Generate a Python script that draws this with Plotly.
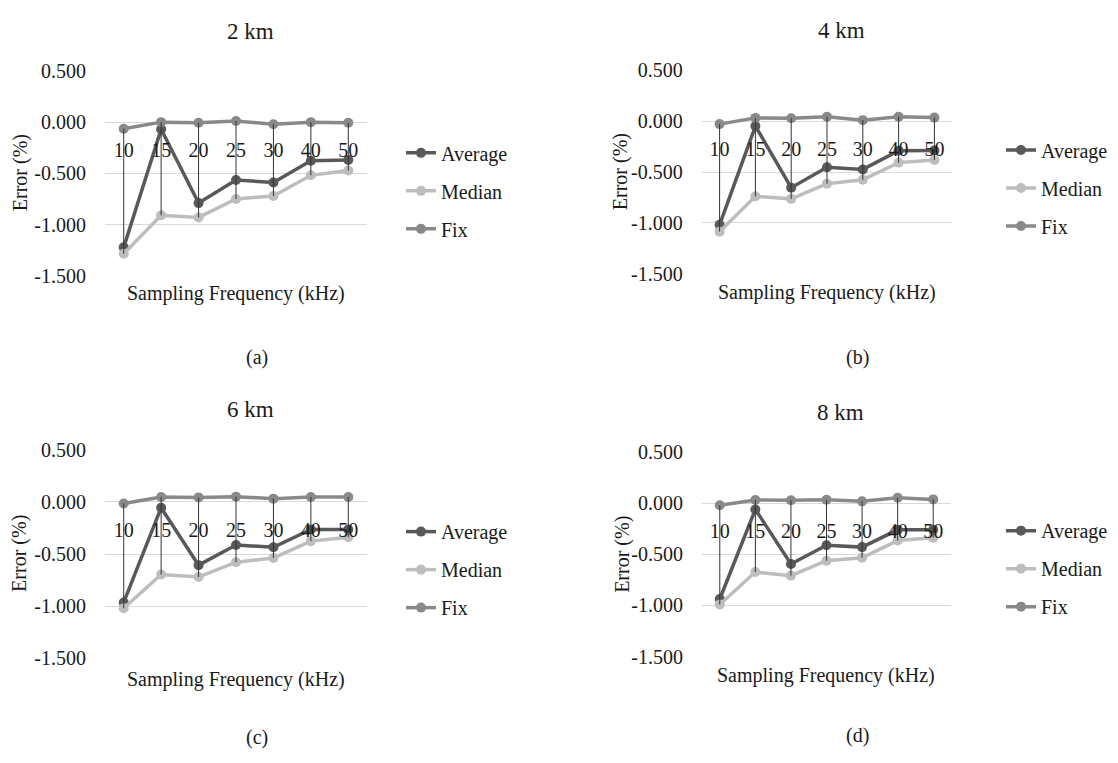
import plotly.graph_objects as go

# ---------------- data ----------------
freqs = ["10", "15", "20", "25", "30", "40", "50"]
series_names = ["Average", "Median", "Fix"]
panel_titles = ["2 km", "4 km", "6 km", "8 km"]
panel_captions = ["(a)", "(b)", "(c)", "(d)"]

avg_2km = [-1.222, -0.070, -0.790, -0.564, -0.589, -0.377, -0.370]
med_2km = [-1.285, -0.909, -0.930, -0.750, -0.720, -0.519, -0.472]
fix_2km = [-0.064, 0.000, -0.005, 0.012, -0.020, 0.000, -0.005]

avg_4km = [-1.018, -0.048, -0.653, -0.452, -0.474, -0.290, -0.287]
med_4km = [-1.085, -0.738, -0.763, -0.614, -0.576, -0.407, -0.382]
fix_4km = [-0.029, 0.032, 0.029, 0.044, 0.010, 0.044, 0.035]

avg_6km = [-0.963, -0.056, -0.606, -0.413, -0.435, -0.264, -0.264]
med_6km = [-1.019, -0.696, -0.720, -0.578, -0.537, -0.376, -0.339]
fix_6km = [-0.016, 0.047, 0.043, 0.050, 0.031, 0.047, 0.047]

avg_8km = [-0.937, -0.060, -0.594, -0.410, -0.429, -0.260, -0.260]
med_8km = [-0.990, -0.673, -0.708, -0.562, -0.533, -0.365, -0.337]
fix_8km = [-0.019, 0.032, 0.029, 0.035, 0.019, 0.054, 0.038]

y_tick_vals = [0.5, 0.0, -0.5, -1.0, -1.5]
y_tick_text = ["0.500", "0.000", "-0.500", "-1.000", "-1.500"]

panel_data = [
    (avg_2km, med_2km, fix_2km),
    (avg_4km, med_4km, fix_4km),
    (avg_6km, med_6km, fix_6km),
    (avg_8km, med_8km, fix_8km),
]

# ---------------- styling / layout ----------------
W, H = 1118, 763
FONT = "'Liberation Serif', 'Times New Roman', Tinos, 'DejaVu Serif', serif"
TXT = "#1a1a1a"
colors = {"Average": "#595959", "Median": "#bdbdbd", "Fix": "#898989"}

def px(x):
    return x / W

def py(y):
    return 1 - y / H

# pixel geometry of each panel
geo = [
    dict(x0=105, x1=367, y0=61.7, y1=272.7, title=(250, 21), xt=(236, 291), yt=(20, 167), cap=(257, 357), leg=(401, 126)),
    dict(x0=701.7, x1=952.3, y0=61.0, y1=270.7, title=(841, 20), xt=(827, 290), yt=(620, 166), cap=(857, 357), leg=(1001, 123)),
    dict(x0=105, x1=367, y0=451.7, y1=666.7, title=(250, 410), xt=(236, 688), yt=(20, 559), cap=(257, 748), leg=(401, 516)),
    dict(x0=702, x1=951, y0=454.3, y1=664.7, title=(840, 413), xt=(826, 684), yt=(623, 560), cap=(857, 746), leg=(1001, 515)),
]

fig = go.Figure()
annotations = []
layout_axes = {}

for i, (g, data) in enumerate(zip(geo, panel_data)):
    n = i + 1
    xa = "x" if n == 1 else f"x{n}"
    ya = "y" if n == 1 else f"y{n}"
    lg = "legend" if n == 1 else f"legend{n}"

    for name, vals in zip(series_names, data):
        fig.add_trace(go.Scatter(
            x=freqs, y=vals, name=name, mode="lines+markers",
            line=dict(color=colors[name], width=3.5),
            marker=dict(color=colors[name], size=10),
            xaxis=xa, yaxis=ya, legend=lg, legendgroup=f"{name}{n}",
        ))

    # high-low lines from the data
    hx, hy = [], []
    for j, c in enumerate(freqs):
        vs = [d[j] for d in data]
        hx += [c, c, None]
        hy += [min(vs), max(vs), None]
    fig.add_trace(go.Scatter(
        x=hx, y=hy, mode="lines", line=dict(color="#333333", width=1),
        xaxis=xa, yaxis=ya, showlegend=False, hoverinfo="skip",
    ))

    yd0, yd1 = py(g["y1"]), py(g["y0"])
    zero_pos = yd0 + (0 - (-1.5)) / 2.0 * (yd1 - yd0)

    layout_axes["xaxis" if n == 1 else f"xaxis{n}"] = dict(
        domain=[px(g["x0"]), px(g["x1"])], anchor="free", position=zero_pos,
        type="category", range=[-0.5, 6.5], showgrid=False, showline=False,
        zeroline=False, ticks="outside", ticklen=10, tickcolor="rgba(0,0,0,0)",
        tickfont=dict(family=FONT, size=20, color=TXT), fixedrange=True,
    )
    layout_axes["yaxis" if n == 1 else f"yaxis{n}"] = dict(
        domain=[yd0, yd1], anchor=xa, range=[-1.5, 0.5],
        tickvals=y_tick_vals, ticktext=y_tick_text,
        showgrid=True, gridcolor="#d9d9d9", gridwidth=1, zeroline=False,
        showline=False, ticks="outside", ticklen=14, tickcolor="rgba(0,0,0,0)",
        tickfont=dict(family=FONT, size=20, color=TXT), fixedrange=True,
    )
    layout_axes[lg] = dict(
        x=px(g["leg"][0]), y=py(g["leg"][1]), xanchor="left", yanchor="top",
        bgcolor="rgba(0,0,0,0)", tracegroupgap=9,
        font=dict(family=FONT, size=20, color=TXT),
    )

    annotations += [
        dict(text=panel_titles[i], x=px(g["title"][0]), y=py(g["title"][1]),
             font=dict(family=FONT, size=23, color=TXT)),
        dict(text="Sampling Frequency (kHz)", x=px(g["xt"][0]), y=py(g["xt"][1]),
             font=dict(family=FONT, size=20, color=TXT)),
        dict(text="Error (%)", x=px(g["yt"][0]), y=py(g["yt"][1]), textangle=-90,
             font=dict(family=FONT, size=20, color=TXT)),
        dict(text=panel_captions[i], x=px(g["cap"][0]), y=py(g["cap"][1]),
             font=dict(family=FONT, size=20, color=TXT)),
    ]

for a in annotations:
    a.update(xref="paper", yref="paper", xanchor="center", yanchor="middle", showarrow=False)

fig.update_layout(
    width=W, height=H, margin=dict(l=0, r=0, t=0, b=0),
    paper_bgcolor="white", plot_bgcolor="white",
    font=dict(family=FONT, color=TXT),
    annotations=annotations, hovermode=False,
    **layout_axes,
)

fig.write_html(
    "out.html",
    config={"displayModeBar": False},
    post_script="document.body.style.margin='0';document.body.style.overflow='hidden';",
)
